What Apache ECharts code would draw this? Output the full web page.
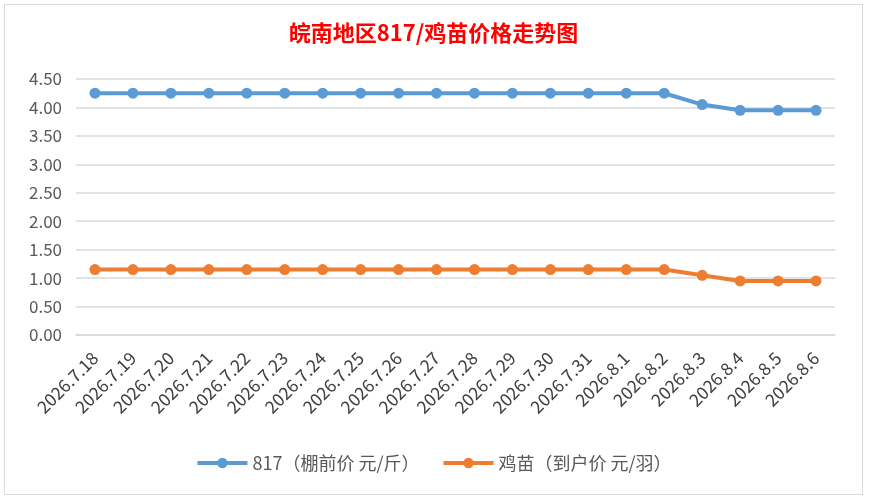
<!DOCTYPE html>
<html>
<head>
<meta charset="utf-8">
<script src="https://cdn.jsdelivr.net/npm/echarts@6/dist/echarts.min.js"></script>
<style>
  html, body { margin: 0; padding: 0; background: #fff; }
  #wrap { position: relative; width: 869px; height: 500px; overflow: hidden; }
  #chart { position: absolute; left: 4px; top: 4px; width: 859px; height: 491px;
           border: 1px solid #d9d9d9; box-sizing: border-box; background: #fff; }
</style>
</head>
<body>
<div id="wrap"><div id="chart"></div></div>
<script>
// 日期
var dates = ['2026.7.18', '2026.7.19', '2026.7.20', '2026.7.21', '2026.7.22', '2026.7.23',
    '2026.7.24', '2026.7.25', '2026.7.26', '2026.7.27', '2026.7.28', '2026.7.29',
    '2026.7.30', '2026.7.31', '2026.8.1', '2026.8.2', '2026.8.3', '2026.8.4',
    '2026.8.5', '2026.8.6'];
// 817 棚前价 元/斤
var price817 = [4.25, 4.25, 4.25, 4.25, 4.25, 4.25, 4.25, 4.25, 4.25, 4.25,
    4.25, 4.25, 4.25, 4.25, 4.25, 4.25, 4.05, 3.95, 3.95, 3.95];
// 鸡苗 到户价 元/羽
var priceChick = [1.15, 1.15, 1.15, 1.15, 1.15, 1.15, 1.15, 1.15, 1.15, 1.15,
    1.15, 1.15, 1.15, 1.15, 1.15, 1.15, 1.05, 0.95, 0.95, 0.95];

var colors = ['#5B9BD5', '#ED7D31'];
var font = '"Noto Sans CJK SC", "Noto Sans", sans-serif';

var myChart = echarts.init(document.getElementById('chart'));

var option = {
    color: colors,
    animation: false,
    title: {
        text: '皖南地区817/鸡苗价格走势图',
        left: 'center',
        top: 12,
        textStyle: {
            color: '#FF0000',
            fontSize: 22,
            fontWeight: 'bold',
            fontFamily: font
        }
    },
    legend: {
        bottom: 17,
        left: 'center',
        itemWidth: 50,
        itemHeight: 13,
        itemGap: 22,
        lineStyle: { width: 4 },
        textStyle: {
            color: '#595959',
            fontSize: 18,
            fontFamily: font
        },
        data: ['817（棚前价 元/斤）', '鸡苗（到户价 元/羽）']
    },
    grid: {
        left: 71,
        right: 27,
        top: 74,
        bottom: 159,
        containLabel: false
    },
    xAxis: {
        type: 'category',
        data: dates,
        boundaryGap: true,
        axisTick: { show: false },
        axisLine: { show: true, lineStyle: { color: '#d9d9d9', width: 1.5 } },
        axisLabel: {
            rotate: 45,
            interval: 0,
            color: '#404040',
            fontSize: 17.5,
            fontFamily: font,
            margin: 20
        }
    },
    yAxis: {
        type: 'value',
        min: 0,
        max: 4.5,
        interval: 0.5,
        axisLine: { show: false },
        axisTick: { show: false },
        splitLine: { lineStyle: { color: '#d9d9d9', width: 1.5 } },
        axisLabel: {
            color: '#595959',
            fontSize: 17,
            fontFamily: font,
            margin: 14,
            formatter: function (v) { return v.toFixed(2); }
        }
    },
    series: [{
        name: '817（棚前价 元/斤）',
        type: 'line',
        data: price817,
        symbol: 'circle',
        symbolSize: 11,
        lineStyle: { width: 4 },
        itemStyle: { color: colors[0] }
    }, {
        name: '鸡苗（到户价 元/羽）',
        type: 'line',
        data: priceChick,
        symbol: 'circle',
        symbolSize: 11,
        lineStyle: { width: 4 },
        itemStyle: { color: colors[1] }
    }]
};

myChart.setOption(option);
</script>
</body>
</html>
